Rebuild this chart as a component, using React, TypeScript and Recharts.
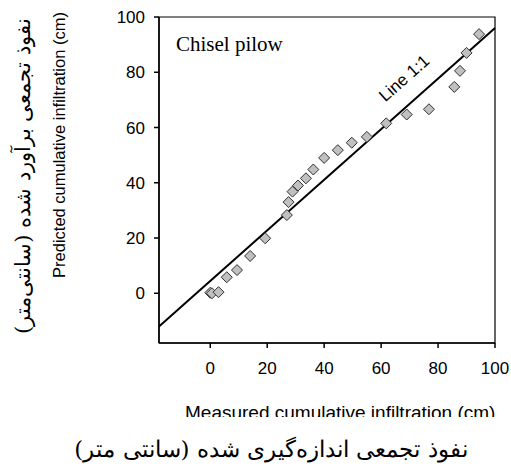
import {
  ScatterChart,
  Scatter,
  XAxis,
  YAxis,
  ReferenceLine,
  ReferenceArea,
  ReferenceDot,
} from 'recharts';

const measured = [0, 0.6, 2.9, 5.8, 9.4, 14, 19.3, 26.9, 27.5, 28.9, 30.8, 33.6, 36.2, 40, 44.8, 49.7, 55, 61.8, 69, 76.8, 85.7, 87.7, 90, 94.4];
const predicted = [0.2, 0, 0.4, 5.8, 8.4, 13.5, 19.9, 28.3, 33, 36.8, 39, 41.6, 44.8, 49, 51.8, 54.5, 56.6, 61.5, 64.7, 66.6, 74.7, 80.5, 87, 93.8];
const xTicks = [0, 20, 40, 60, 80, 100];
const yTicks = [0, 20, 40, 60, 80, 100];
const axisMin = -18;
const axisMax = 100;
// 1:1 line as drawn in the figure (ends at the frame)
const fitLine = [
  { x: -18, y: -12 },
  { x: 100, y: 96 },
];
const lineLabelAt = { x: 68.4, y: 77.5 };

const points = measured.map((m, i) => ({ x: m, y: predicted[i] }));

function Diamond(props: any) {
  const { cx, cy } = props;
  const r = 5.5;
  return (
    <path
      d={`M${cx},${cy - r}L${cx + r},${cy}L${cx},${cy + r}L${cx - r},${cy}Z`}
      fill="#c0c0c0"
      stroke="#303030"
      strokeWidth={1}
    />
  );
}

function LineLabel(props: any) {
  const { viewBox } = props;
  const x = viewBox.x + viewBox.width / 2;
  const y = viewBox.y + viewBox.height / 2;
  return (
    <text
      x={x}
      y={y}
      transform={`rotate(-41.6 ${x} ${y})`}
      textAnchor="middle"
      dominantBaseline="middle"
      fontFamily="Liberation Sans, Arial, sans-serif"
      fontSize={17}
      fill="#000"
    >
      Line 1:1
    </text>
  );
}

const tickStyle = { fontFamily: 'Liberation Sans, Arial, sans-serif', fontSize: 17, fill: '#000' };

export default function App() {
  return (
    <div style={{ position: 'absolute', left: 0, top: 0, width: 511, height: 468, background: '#fff' }}>
      <ScatterChart width={511} height={468} margin={{ top: 17, right: 16, bottom: 95, left: 119 }}>
        <XAxis
          type="number"
          dataKey="x"
          domain={[axisMin, axisMax]}
          ticks={xTicks}
          allowDataOverflow
          height={30}
          tick={tickStyle}
          tickSize={5}
          tickMargin={14}
          stroke="#000"
          strokeWidth={1.5}
        />
        <YAxis
          type="number"
          dataKey="y"
          domain={[axisMin, axisMax]}
          ticks={yTicks}
          allowDataOverflow
          width={40}
          tick={tickStyle}
          tickSize={5}
          tickMargin={9}
          stroke="#000"
          strokeWidth={1.5}
        />
        <ReferenceArea x1={axisMin} x2={axisMax} y1={axisMin} y2={axisMax} fill="none" stroke="#000" strokeWidth={1.2} />
        <ReferenceLine segment={fitLine} stroke="#000" strokeWidth={2} />
        <ReferenceDot x={lineLabelAt.x} y={lineLabelAt.y} r={0} fill="none" stroke="none" label={<LineLabel />} />
        <Scatter data={points} shape={<Diamond />} isAnimationActive={false} />
      </ScatterChart>
      <div
        style={{
          position: 'absolute',
          left: 176,
          top: 34,
          fontFamily: 'Liberation Serif, Times New Roman, serif',
          fontSize: 21,
          lineHeight: '21px',
          whiteSpace: 'nowrap',
        }}
      >
        Chisel pilow
      </div>
      <div
        style={{
          position: 'absolute',
          left: 59,
          top: 145,
          transform: 'translate(-50%, -50%) rotate(-90deg)',
          whiteSpace: 'nowrap',
          fontFamily: 'Liberation Sans, Arial, sans-serif',
          fontSize: 16.5,
        }}
      >
        Predicted cumulative infiltration (cm)
      </div>
      <div
        style={{
          position: 'absolute',
          left: 23,
          top: 176,
          transform: 'translate(-50%, -50%) rotate(-90deg)',
          whiteSpace: 'nowrap',
          direction: 'rtl',
          fontFamily: 'DejaVu Serif, Times New Roman, serif',
          fontSize: 21,
        }}
      >
        نفوذ تجمعی برآورد شده (سانتی‌متر)
      </div>
      <div
        style={{
          position: 'absolute',
          left: 185,
          top: 403,
          height: 14,
          overflow: 'hidden',
          whiteSpace: 'nowrap',
          fontFamily: 'Liberation Sans, Arial, sans-serif',
          fontSize: 19,
          lineHeight: '19px',
        }}
      >
        Measured cumulative infiltration (cm)
      </div>
      <div
        style={{
          position: 'absolute',
          left: 271,
          top: 449,
          transform: 'translate(-50%, -50%)',
          whiteSpace: 'nowrap',
          direction: 'rtl',
          fontFamily: 'DejaVu Serif, Times New Roman, serif',
          fontSize: 23,
        }}
      >
        نفوذ تجمعی اندازه‌گیری شده (سانتی متر)
      </div>
    </div>
  );
}
